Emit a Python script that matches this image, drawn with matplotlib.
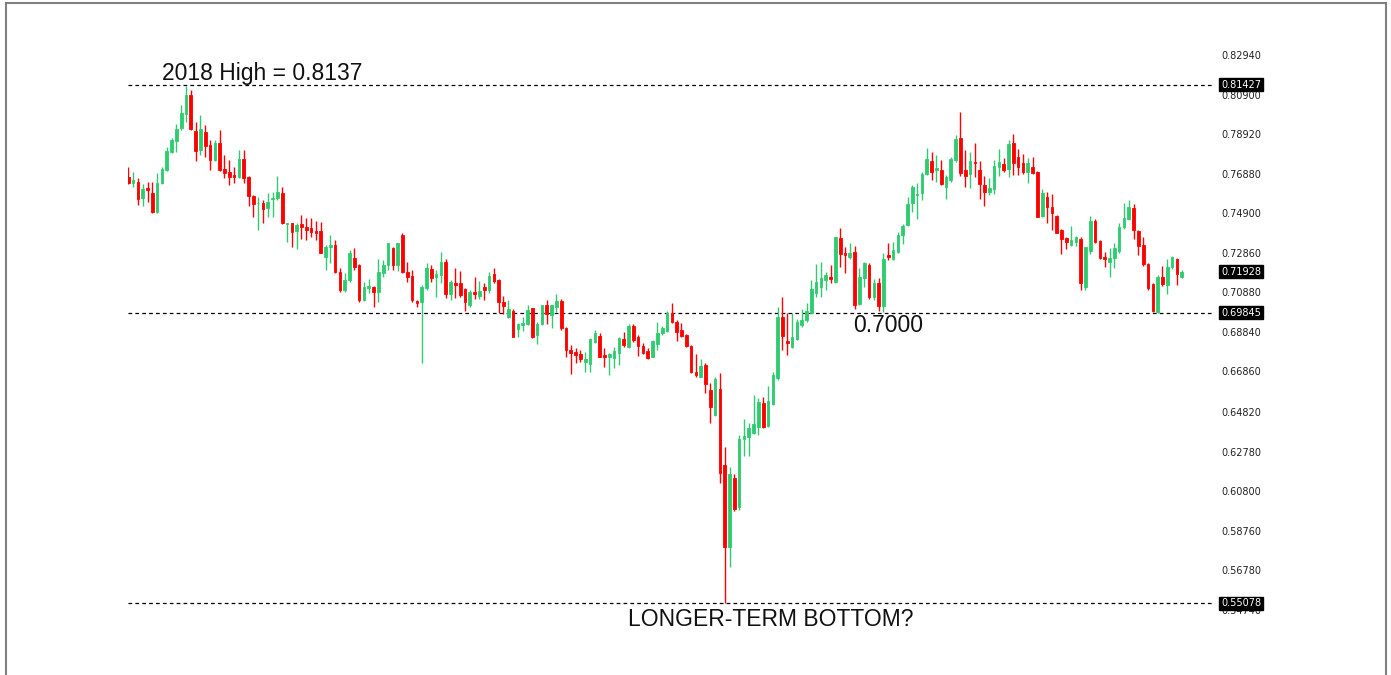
import matplotlib
matplotlib.use("Agg")
import matplotlib.pyplot as plt
import matplotlib.patches as patches
import numpy as np

# weekly candles (open, high, low, close)
opens = [
    0.7675, 0.7642, 0.7648, 0.7565, 0.7620, 0.7594, 0.7498, 0.7642, 0.7709, 0.7802,
    0.7858, 0.7921, 0.7992, 0.8090, 0.7909, 0.7811, 0.7904, 0.7836, 0.7760, 0.7848,
    0.7713, 0.7701, 0.7684, 0.7675, 0.7763, 0.7675, 0.7577, 0.7540, 0.7543, 0.7515,
    0.7560, 0.7565, 0.7591, 0.7433, 0.7438, 0.7401, 0.7435, 0.7421, 0.7413, 0.7401,
    0.7401, 0.7269, 0.7320, 0.7328, 0.7193, 0.7100, 0.7151, 0.7261, 0.7227, 0.7049,
    0.7108, 0.7117, 0.7091, 0.7185, 0.7227, 0.7311, 0.7227, 0.7379, 0.7193, 0.7171,
    0.7046, 0.7041, 0.7108, 0.7207, 0.7164, 0.7176, 0.7244, 0.7080, 0.7137, 0.7137,
    0.7105, 0.7024, 0.7088, 0.7069, 0.7117, 0.7100, 0.7179, 0.7151, 0.7041, 0.6965,
    0.6995, 0.6900, 0.6922, 0.6927, 0.7007, 0.6871, 0.6927, 0.7024, 0.6973, 0.7012,
    0.7046, 0.6905, 0.6795, 0.6783, 0.6773, 0.6736, 0.6724, 0.6838, 0.6866, 0.6770,
    0.6761, 0.6753, 0.6782, 0.6849, 0.6812, 0.6917, 0.6863, 0.6816, 0.6792, 0.6761,
    0.6826, 0.6880, 0.6893, 0.6981, 0.6939, 0.6897, 0.6871, 0.6816, 0.6685, 0.6660,
    0.6719, 0.6592, 0.6465, 0.6597, 0.6211, 0.5793, 0.6143, 0.5996, 0.6341, 0.6352,
    0.6375, 0.6406, 0.6524, 0.6409, 0.6521, 0.6651, 0.6964, 0.6843, 0.6809, 0.6849,
    0.6922, 0.6947, 0.6984, 0.7083, 0.7117, 0.7151, 0.7164, 0.7142, 0.7362, 0.7286,
    0.7269, 0.7291, 0.7029, 0.7159, 0.7227, 0.7063, 0.7134, 0.7019, 0.7278, 0.7256,
    0.7295, 0.7379, 0.7430, 0.7544, 0.7582, 0.7594, 0.7689, 0.7757, 0.7709, 0.7709,
    0.7621, 0.7659, 0.7760, 0.7874, 0.7709, 0.7689, 0.7752, 0.7709, 0.7633, 0.7599,
    0.7611, 0.7726, 0.7740, 0.7713, 0.7848, 0.7774, 0.7747, 0.7701, 0.7726, 0.7701,
    0.7476, 0.7574, 0.7520, 0.7476, 0.7405, 0.7362, 0.7329, 0.7345, 0.7357, 0.7113,
    0.7300, 0.7452, 0.7350, 0.7266, 0.7244, 0.7261, 0.7300, 0.7419, 0.7459, 0.7515,
    0.7401, 0.7329, 0.7232, 0.7130, 0.6990, 0.7164, 0.7125, 0.7215, 0.7256, 0.7164,
]
highs = [
    0.7726, 0.7701, 0.7667, 0.7638, 0.7648, 0.7648, 0.7692, 0.7723, 0.7824, 0.7870,
    0.7943, 0.8039, 0.8136, 0.8116, 0.7955, 0.7989, 0.7938, 0.7862, 0.7862, 0.7912,
    0.7785, 0.7760, 0.7726, 0.7811, 0.7811, 0.7679, 0.7582, 0.7574, 0.7557, 0.7591,
    0.7599, 0.7679, 0.7625, 0.7442, 0.7442, 0.7438, 0.7481, 0.7464, 0.7464, 0.7452,
    0.7447, 0.7328, 0.7379, 0.7354, 0.7210, 0.7185, 0.7303, 0.7311, 0.7232, 0.7142,
    0.7154, 0.7120, 0.7256, 0.7252, 0.7340, 0.7320, 0.7340, 0.7388, 0.7244, 0.7201,
    0.7049, 0.7126, 0.7235, 0.7227, 0.7201, 0.7295, 0.7255, 0.7151, 0.7210, 0.7198,
    0.7108, 0.7100, 0.7164, 0.7146, 0.7134, 0.7190, 0.7210, 0.7154, 0.7069, 0.7049,
    0.7002, 0.6931, 0.6965, 0.7024, 0.7010, 0.6939, 0.7026, 0.7049, 0.7024, 0.7080,
    0.7052, 0.6910, 0.6821, 0.6804, 0.6795, 0.6787, 0.6854, 0.6897, 0.6883, 0.6804,
    0.6778, 0.6809, 0.6860, 0.6888, 0.6927, 0.6927, 0.6871, 0.6832, 0.6804, 0.6846,
    0.6939, 0.6917, 0.6995, 0.7032, 0.6947, 0.6931, 0.6875, 0.6818, 0.6775, 0.6748,
    0.6727, 0.6626, 0.6660, 0.6680, 0.6304, 0.6199, 0.6165, 0.6363, 0.6443, 0.6423,
    0.6567, 0.6550, 0.6558, 0.6612, 0.6685, 0.7015, 0.7063, 0.6981, 0.6981, 0.6951,
    0.7002, 0.7036, 0.7151, 0.7232, 0.7244, 0.7193, 0.7227, 0.7371, 0.7417, 0.7320,
    0.7340, 0.7323, 0.7210, 0.7244, 0.7235, 0.7154, 0.7159, 0.7286, 0.7340, 0.7345,
    0.7396, 0.7435, 0.7571, 0.7633, 0.7642, 0.7701, 0.7820, 0.7803, 0.7786, 0.7760,
    0.7684, 0.7777, 0.7887, 0.8006, 0.7811, 0.7803, 0.7848, 0.7757, 0.7679, 0.7667,
    0.7760, 0.7814, 0.7769, 0.7862, 0.7892, 0.7814, 0.7791, 0.7769, 0.7774, 0.7706,
    0.7611, 0.7599, 0.7588, 0.7481, 0.7408, 0.7367, 0.7425, 0.7374, 0.7371, 0.7320,
    0.7476, 0.7459, 0.7355, 0.7295, 0.7312, 0.7337, 0.7439, 0.7543, 0.7557, 0.7537,
    0.7405, 0.7367, 0.7239, 0.7133, 0.7176, 0.7222, 0.7256, 0.7273, 0.7261, 0.7200,
]
lows = [
    0.7638, 0.7625, 0.7532, 0.7526, 0.7548, 0.7493, 0.7493, 0.7638, 0.7706, 0.7797,
    0.7802, 0.7912, 0.7955, 0.7912, 0.7757, 0.7785, 0.7777, 0.7709, 0.7757, 0.7706,
    0.7667, 0.7633, 0.7642, 0.7667, 0.7642, 0.7526, 0.7472, 0.7405, 0.7442, 0.7472,
    0.7472, 0.7557, 0.7435, 0.7345, 0.7320, 0.7306, 0.7357, 0.7354, 0.7371, 0.7354,
    0.7286, 0.7201, 0.7235, 0.7185, 0.7091, 0.7091, 0.7142, 0.7201, 0.7041, 0.7046,
    0.7083, 0.7015, 0.7041, 0.7168, 0.7201, 0.7201, 0.7198, 0.7185, 0.7142, 0.7041,
    0.7015, 0.6727, 0.7100, 0.7142, 0.7066, 0.7134, 0.7057, 0.7049, 0.7057, 0.7066,
    0.6995, 0.7015, 0.7054, 0.7052, 0.7049, 0.7083, 0.7134, 0.6981, 0.6978, 0.6956,
    0.6860, 0.6863, 0.6893, 0.6922, 0.6854, 0.6826, 0.6922, 0.6927, 0.6905, 0.6990,
    0.6897, 0.6761, 0.6673, 0.6731, 0.6736, 0.6685, 0.6685, 0.6829, 0.6758, 0.6710,
    0.6668, 0.6702, 0.6719, 0.6812, 0.6804, 0.6838, 0.6765, 0.6775, 0.6748, 0.6758,
    0.6795, 0.6871, 0.6888, 0.6931, 0.6843, 0.6863, 0.6812, 0.6680, 0.6660, 0.6656,
    0.6578, 0.6426, 0.6460, 0.6118, 0.5508, 0.5695, 0.5979, 0.5982, 0.6254, 0.6254,
    0.6369, 0.6363, 0.6397, 0.6406, 0.6516, 0.6643, 0.6795, 0.6770, 0.6804, 0.6846,
    0.6914, 0.6939, 0.6981, 0.7066, 0.7066, 0.7100, 0.7134, 0.7137, 0.7218, 0.7185,
    0.7256, 0.7002, 0.7024, 0.7117, 0.7053, 0.7049, 0.6995, 0.6990, 0.7252, 0.7252,
    0.7290, 0.7334, 0.7425, 0.7498, 0.7459, 0.7557, 0.7684, 0.7659, 0.7650, 0.7633,
    0.7560, 0.7650, 0.7752, 0.7679, 0.7621, 0.7616, 0.7676, 0.7560, 0.7527, 0.7582,
    0.7588, 0.7679, 0.7701, 0.7676, 0.7684, 0.7684, 0.7689, 0.7642, 0.7689, 0.7469,
    0.7469, 0.7442, 0.7405, 0.7388, 0.7283, 0.7307, 0.7323, 0.7323, 0.7100, 0.7100,
    0.7283, 0.7337, 0.7258, 0.7215, 0.7168, 0.7210, 0.7286, 0.7408, 0.7455, 0.7357,
    0.7278, 0.7222, 0.7100, 0.6990, 0.6985, 0.7120, 0.7080, 0.7205, 0.7125, 0.7159,
]
closes = [
    0.7645, 0.7659, 0.7560, 0.7611, 0.7608, 0.7498, 0.7642, 0.7716, 0.7806, 0.7862,
    0.7918, 0.7997, 0.8090, 0.7916, 0.7808, 0.7916, 0.7831, 0.7760, 0.7848, 0.7709,
    0.7692, 0.7672, 0.7675, 0.7763, 0.7667, 0.7577, 0.7537, 0.7543, 0.7510, 0.7548,
    0.7569, 0.7599, 0.7438, 0.7438, 0.7396, 0.7430, 0.7421, 0.7405, 0.7396, 0.7391,
    0.7289, 0.7320, 0.7328, 0.7193, 0.7100, 0.7151, 0.7286, 0.7218, 0.7049, 0.7117,
    0.7120, 0.7091, 0.7193, 0.7227, 0.7337, 0.7227, 0.7337, 0.7193, 0.7168, 0.7049,
    0.7032, 0.7117, 0.7213, 0.7159, 0.7179, 0.7244, 0.7080, 0.7142, 0.7126, 0.7074,
    0.7041, 0.7091, 0.7080, 0.7096, 0.7100, 0.7171, 0.7147, 0.7041, 0.7019, 0.7002,
    0.6863, 0.6927, 0.6934, 0.6998, 0.6863, 0.6927, 0.7024, 0.6978, 0.7022, 0.7044,
    0.6905, 0.6795, 0.6778, 0.6770, 0.6748, 0.6748, 0.6849, 0.6883, 0.6761, 0.6761,
    0.6773, 0.6792, 0.6854, 0.6819, 0.6917, 0.6846, 0.6816, 0.6782, 0.6753, 0.6843,
    0.6880, 0.6905, 0.6985, 0.6939, 0.6888, 0.6866, 0.6816, 0.6685, 0.6668, 0.6714,
    0.6622, 0.6504, 0.6648, 0.6172, 0.5793, 0.6165, 0.5986, 0.6341, 0.6358, 0.6397,
    0.6419, 0.6529, 0.6406, 0.6538, 0.6668, 0.6964, 0.6866, 0.6832, 0.6859, 0.6939,
    0.6947, 0.6995, 0.7103, 0.7142, 0.7159, 0.7176, 0.7154, 0.7367, 0.7283, 0.7278,
    0.7290, 0.7024, 0.7164, 0.7239, 0.7066, 0.7137, 0.7019, 0.7256, 0.7269, 0.7303,
    0.7379, 0.7425, 0.7537, 0.7621, 0.7588, 0.7689, 0.7764, 0.7701, 0.7718, 0.7638,
    0.7676, 0.7764, 0.7865, 0.7696, 0.7679, 0.7755, 0.7743, 0.7638, 0.7599, 0.7616,
    0.7730, 0.7752, 0.7709, 0.7842, 0.7747, 0.7723, 0.7701, 0.7743, 0.7696, 0.7472,
    0.7591, 0.7523, 0.7489, 0.7391, 0.7357, 0.7345, 0.7354, 0.7367, 0.7137, 0.7317,
    0.7452, 0.7345, 0.7261, 0.7259, 0.7261, 0.7312, 0.7422, 0.7464, 0.7520, 0.7405,
    0.7323, 0.7232, 0.7108, 0.6995, 0.7168, 0.7130, 0.7218, 0.7266, 0.7181, 0.7193,
]

price_ticks = [0.82940, 0.80900, 0.78920, 0.76880, 0.74900, 0.72860, 0.70880, 0.68840,
               0.66860, 0.64820, 0.62780, 0.60800, 0.58760, 0.56780, 0.54740]
marked_levels = [0.81427, 0.69845, 0.55078]
last_price = 0.71928

o = np.array(opens)
h = np.array(highs)
l = np.array(lows)
c = np.array(closes)
x = np.arange(len(c))
up = c >= o
cols = np.where(up, '#2ecc71', '#ff0000')

fig = plt.figure(figsize=(13.91, 6.75), dpi=100)
ax = fig.add_axes([128 / 1391, 35 / 675, 1084 / 1391, 610 / 675])

ax.vlines(x, l, h, colors=cols, linewidth=1.0, zorder=2)
ax.bar(x, np.abs(c - o), bottom=np.minimum(o, c), width=0.55, color=cols,
       edgecolor=cols, linewidth=0.6, zorder=3)

for lvl in marked_levels:
    ax.axhline(lvl, color='black', linestyle=(0, (3, 2.5)), linewidth=0.9, zorder=1)

ax.set_xlim(-0.06, 225.3)
ax.set_ylim(0.53218, 0.84206)

ax.yaxis.tick_right()
ax.set_yticks(price_ticks)
ax.set_yticklabels([f"{t:.5f}" for t in price_ticks])
ax.tick_params(axis='y', length=0, pad=6.5, labelsize=7, labelcolor='#222222')
ax.set_xticks([])
for s in ax.spines.values():
    s.set_visible(False)

# black price tags on the right
ytr = ax.get_yaxis_transform()
for val in marked_levels + [last_price]:
    ax.text(1.0083, val, f"{val:.5f}", transform=ytr, ha='left', va='center',
            fontsize=7, color='white', zorder=5,
            bbox=dict(boxstyle='square,pad=0.18', fc='black', ec='black'))

font = dict(family='Liberation Sans', fontsize=16.5, color='#111111')
ax.text(7.0, 0.8202, "2018 High = 0.8137", ha='left', va='center', **font)
ax.text(150.7, 0.6917, "0.7000", ha='left', va='center', **font)
ax.text(103.9, 0.5425, "LONGER-TERM BOTTOM?", ha='left', va='center', **font)

# outer frame of the screenshot
fig.add_artist(patches.Rectangle((6.5 / 1391, -0.1), 1379 / 1391, 1.1 - 3.5 / 675,
                                 transform=fig.transFigure, fill=False,
                                 ec='#808080', lw=1.5))

fig.savefig('out.png', dpi=100)
